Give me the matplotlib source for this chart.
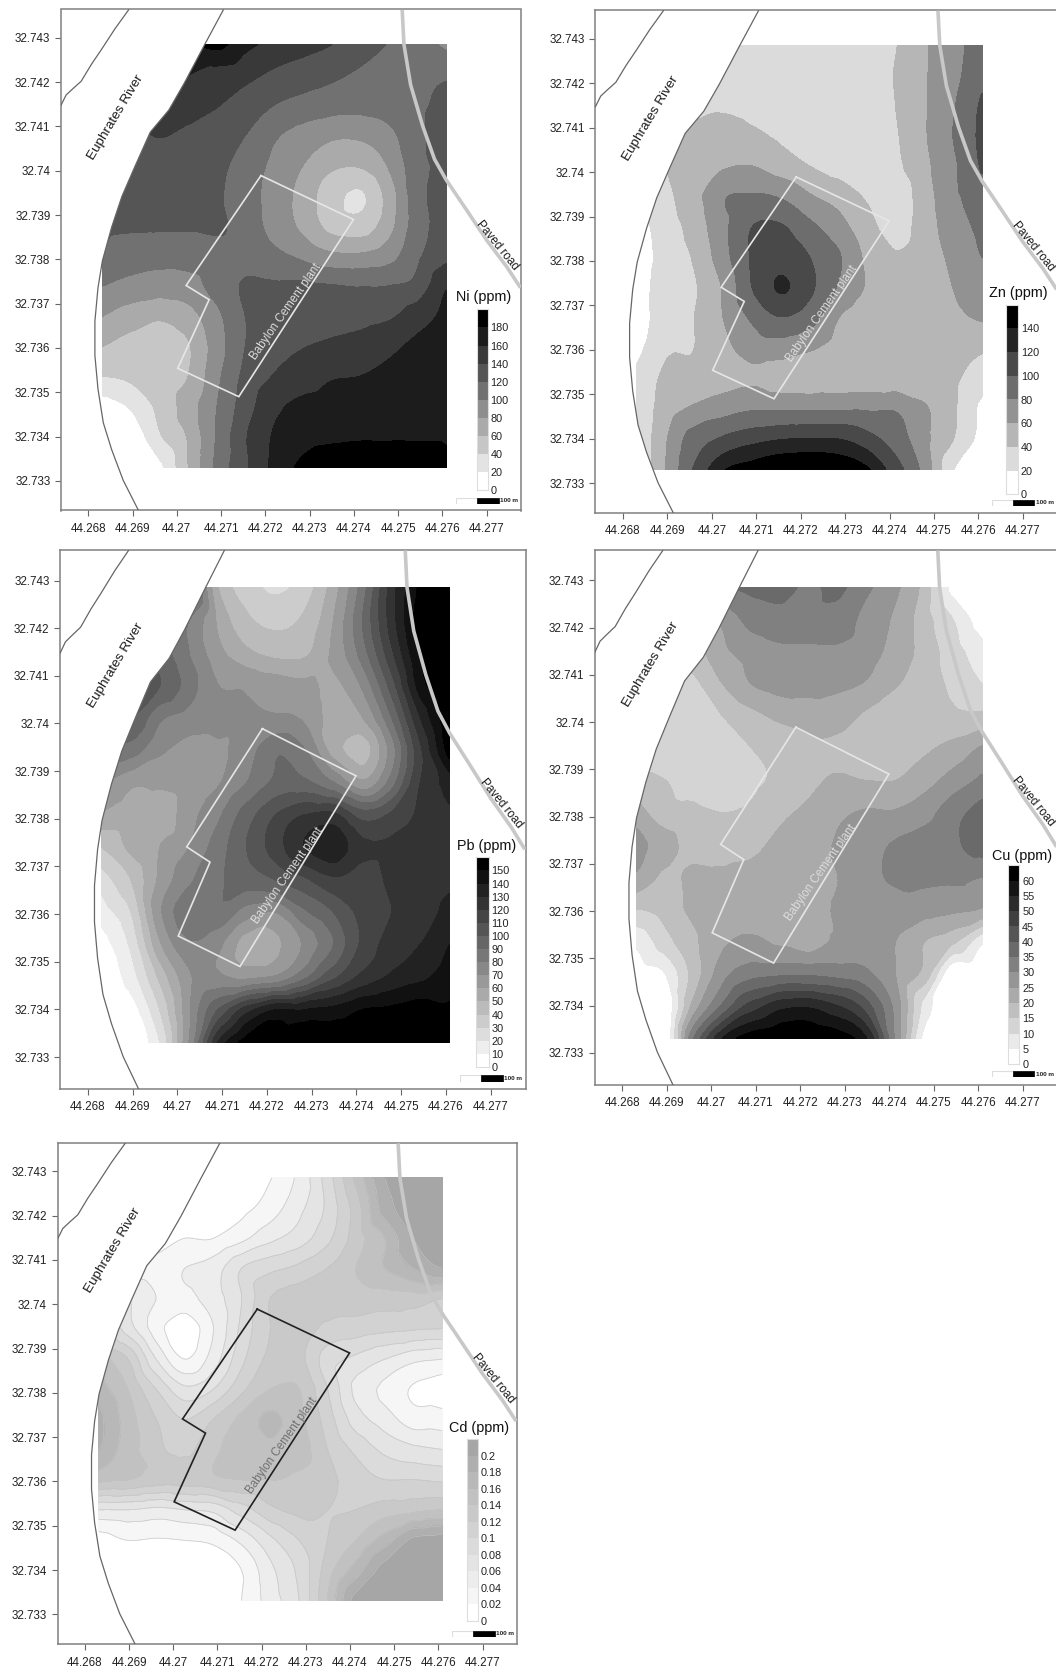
import numpy as np
import matplotlib
matplotlib.use('Agg')
import matplotlib.pyplot as plt
import matplotlib.tri as mtri
from matplotlib.patches import Polygon, Rectangle

plt.rcParams['font.family'] = ['Liberation Sans', 'DejaVu Sans']

FIG_W, FIG_H = 1056, 1669

x_tick_values = [44.268, 44.269, 44.27, 44.271, 44.272, 44.273, 44.274, 44.275, 44.276, 44.277]
x_tick_labels = ['44.268', '44.269', '44.27', '44.271', '44.272', '44.273', '44.274', '44.275', '44.276', '44.277']
y_tick_values = [32.733, 32.734, 32.735, 32.736, 32.737, 32.738, 32.739, 32.74, 32.741, 32.742, 32.743]
y_tick_labels = ['32.733', '32.734', '32.735', '32.736', '32.737', '32.738', '32.739', '32.74', '32.741', '32.742', '32.743']

# sampling nodes of the maps, values at these
grid_x = [44.26832, 44.26897, 44.26961, 44.27026, 44.27091, 44.27155, 44.2722,
          44.27285, 44.27349, 44.27414, 44.27479, 44.27543, 44.27608]
grid_y = [32.74285, 32.74217, 32.74149, 32.74081, 32.74013, 32.73945, 32.73876, 32.73808,
          32.7374, 32.73672, 32.73604, 32.73536, 32.73467, 32.73399, 32.73331]

ni_grid = [
    [170, 170, 170, 178, 185, 165, 155, 147, 140, 128, 119, 110, 95],
    [165, 165, 165, 160, 152, 146, 136, 130, 124, 117, 112, 112, 118],
    [150, 150, 150, 150, 141, 130, 120, 113, 108, 106, 108, 116, 125],
    [135, 135, 141, 135, 130, 120, 103, 92, 84, 84, 95, 114, 132],
    [125, 125, 127, 127, 124, 112, 95, 80, 64, 62, 82, 112, 128],
    [125, 125, 125, 125, 122, 108, 92, 72, 48, 37, 68, 112, 130],
    [123, 122, 122, 122, 123, 110, 93, 75, 53, 48, 72, 110, 130],
    [118, 110, 107, 108, 110, 113, 105, 95, 84, 83, 92, 116, 135],
    [100, 93, 90, 92, 108, 122, 122, 123, 121, 119, 120, 127, 158],
    [80, 70, 63, 72, 95, 120, 127, 130, 132, 133, 137, 150, 165],
    [60, 52, 48, 58, 90, 120, 132, 139, 143, 147, 155, 165, 175],
    [40, 44, 50, 60, 95, 125, 141, 150, 158, 160, 165, 172, 178],
    [10, 22, 45, 70, 100, 130, 155, 165, 168, 170, 172, 175, 177],
    [0, 5, 37, 62, 102, 138, 162, 172, 176, 178, 178, 178, 178],
    [0, 0, 15, 60, 105, 136, 165, 185, 195, 195, 195, 195, 185],
]
zn_grid = [
    [28, 28, 28, 28, 28, 28, 28, 28, 28, 39, 58, 72, 92],
    [30, 30, 30, 30, 30, 30, 30, 30, 30, 41, 58, 74, 95],
    [35, 35, 35, 38, 36, 32, 28, 28, 28, 40, 58, 78, 103],
    [38, 40, 45, 46, 43, 37, 30, 28, 28, 38, 58, 80, 105],
    [25, 40, 50, 58, 60, 50, 40, 32, 28, 36, 55, 76, 102],
    [25, 35, 53, 78, 82, 78, 62, 52, 38, 28, 51, 75, 90],
    [12, 30, 48, 75, 100, 102, 85, 68, 47, 32, 50, 70, 85],
    [8, 28, 42, 72, 102, 112, 100, 82, 56, 42, 50, 64, 80],
    [12, 28, 38, 62, 100, 122, 104, 78, 58, 48, 50, 60, 70],
    [10, 30, 40, 60, 83, 99, 88, 60, 47, 45, 48, 56, 62],
    [14, 37, 40, 55, 68, 70, 62, 52, 45, 44, 45, 47, 42],
    [25, 44, 46, 52, 57, 50, 47, 48, 47, 47, 47, 43, 30],
    [25, 50, 63, 72, 78, 78, 78, 78, 78, 78, 62, 43, 15],
    [22, 58, 90, 103, 113, 119, 121, 120, 108, 90, 65, 40, 12],
    [20, 60, 102, 138, 150, 160, 162, 158, 143, 108, 72, 21, 0],
]
pb_grid = [
    [100, 100, 100, 100, 50, 35, 28, 35, 55, 85, 125, 152, 158],
    [100, 100, 95, 80, 58, 42, 37, 42, 60, 90, 125, 155, 160],
    [100, 100, 95, 80, 63, 52, 47, 48, 62, 85, 118, 150, 160],
    [105, 105, 100, 85, 70, 68, 65, 62, 58, 72, 105, 145, 160],
    [100, 100, 82, 76, 74, 71, 71, 68, 56, 60, 90, 130, 160],
    [85, 85, 72, 66, 68, 75, 88, 80, 55, 45, 75, 118, 155],
    [70, 62, 62, 64, 69, 80, 92, 92, 80, 62, 85, 120, 135],
    [58, 55, 53, 66, 78, 95, 110, 120, 122, 105, 112, 122, 128],
    [40, 52, 60, 70, 85, 100, 115, 130, 137, 122, 122, 124, 126],
    [25, 40, 62, 78, 88, 95, 100, 108, 118, 115, 122, 125, 128],
    [15, 30, 68, 88, 88, 75, 70, 88, 100, 113, 120, 125, 133],
    [5, 22, 58, 78, 72, 55, 58, 72, 90, 112, 125, 130, 140],
    [0, 15, 42, 68, 72, 68, 72, 88, 108, 123, 132, 138, 145],
    [0, 5, 30, 68, 100, 125, 140, 140, 143, 150, 152, 155, 152],
    [0, 0, 20, 70, 130, 155, 158, 160, 160, 160, 160, 160, 160],
]
cu_grid = [
    [22, 25, 28, 34, 36, 37, 34, 36, 31, 26, 18, 3, 0],
    [20, 22, 25, 26, 32, 33, 33, 33, 28, 24, 17, 10, 2],
    [18, 18, 18, 24, 27, 29, 29, 29, 27, 23, 18, 12, 7],
    [13, 14, 14, 20, 25, 27, 27, 26, 24.5, 20.5, 17, 14, 10],
    [13, 12, 12, 15, 18.5, 21, 22, 22, 19, 16, 16, 16, 16],
    [14, 12, 12, 13, 15, 17, 19, 19, 17, 17, 19, 21.5, 25.5],
    [17, 15, 13, 12, 14, 16, 19, 20.5, 20, 20, 23, 27, 31],
    [22, 17, 16, 15, 16, 19, 21, 24, 25.5, 25.5, 28, 33, 37],
    [27, 22, 18, 17, 19, 21, 23, 25.5, 28, 30.5, 32, 34, 37],
    [24, 19, 21, 21, 21, 22, 23, 25, 28, 31, 31, 31, 30],
    [15, 17, 21, 22, 22, 23, 23, 25.5, 26, 27, 27, 26, 24.5],
    [6, 13, 19, 24, 26, 24, 22, 26, 27, 25, 20, 16, 6],
    [2, 5, 17, 28, 33, 34, 34, 33, 31, 25, 18, 0, 0],
    [0, 0, 22, 36, 47, 53, 54, 50, 42, 28, 8, 0, 0],
    [0, 0, 35, 55, 63, 65, 65, 63, 55, 29, 3, 0, 0],
]
# hundredths of a ppm
cd_grid = [
    [0, 0, 0, 0, 0, 0, 1.9, 4.5, 9, 14.5, 20, 21, 21.5],
    [0, 0, 0, 0, 0, 1.4, 3, 5.5, 8.5, 13, 19, 21, 21.5],
    [1, 1, 1, 2, 2, 3.5, 5.5, 7, 9.5, 13, 16, 20, 21.5],
    [3, 3, 3, 4, 5, 8, 9.5, 10.5, 12, 14, 16, 18, 20],
    [6, 6, 4, 3.5, 5, 8, 12, 13, 13, 13, 13, 13, 12],
    [12, 7, 3, 0.5, 4, 8.5, 12, 13, 11.5, 11, 10.5, 10.2, 10],
    [15, 12, 6, 2, 5, 9.5, 12.5, 12.5, 9, 7.5, 6, 4.5, 4],
    [17, 14, 10, 6.5, 8, 11.5, 14, 14, 10, 5.5, 3.5, 1.8, 1],
    [18.5, 15, 12, 10, 12, 14.5, 16.5, 14.5, 11, 7, 5, 3, 3],
    [18, 15, 12.5, 11.5, 13.5, 15.2, 15.5, 15, 12, 9.5, 7.5, 6.5, 6],
    [14.5, 14, 13, 13, 13.5, 14, 14, 13.5, 12.5, 11, 10, 10, 9.7],
    [6, 6, 5.5, 6, 6.5, 9, 11.5, 12.5, 12, 12, 13, 13.5, 14],
    [1, 2, 1.8, 2, 2.5, 4.5, 7.5, 10, 12, 14, 17, 20.5, 21],
    [0, 0, 0, 0, 0, 2, 5.5, 8.5, 13, 17, 21, 21.5, 21.5],
    [0, 0, 0, 0, 0, 2, 5, 8, 14, 21, 22, 22, 22],
]

ni_levels = [0, 20, 40, 60, 80, 100, 120, 140, 160, 180, 200]
zn_levels = [0, 20, 40, 60, 80, 100, 120, 140, 160]
pb_levels = [0, 10, 20, 30, 40, 50, 60, 70, 80, 90, 100, 110, 120, 130, 140, 150, 160]
cu_levels = [0, 5, 10, 15, 20, 25, 30, 35, 40, 45, 50, 55, 60, 65]
cd_levels = [0, 2, 4, 6, 8, 10, 12, 14, 16, 18, 20, 22]
ni_ticks = ['0', '20', '40', '60', '80', '100', '120', '140', '160', '180']
zn_ticks = ['0', '20', '40', '60', '80', '100', '120', '140']
pb_ticks = ['0', '10', '20', '30', '40', '50', '60', '70', '80', '90', '100', '110', '120', '130', '140', '150']
cu_ticks = ['0', '5', '10', '15', '20', '25', '30', '35', '40', '45', '50', '55', '60']
cd_ticks = ['0', '0.02', '0.04', '0.06', '0.08', '0.1', '0.12', '0.14', '0.16', '0.18', '0.2']

# base map: river banks, road and plant outline
river_right_x = [44.27105, 44.27063, 44.27017, 44.26982, 44.2694, 44.26906, 44.26876, 44.26853, 44.26832,
                 44.26822, 44.26815, 44.26815, 44.26822, 44.26834, 44.26853, 44.26879, 44.26914]
river_right_y = [32.74363, 32.74285, 32.74198, 32.74137, 32.74087, 32.74011, 32.73942, 32.73873, 32.73797,
                 32.73736, 32.7366, 32.73583, 32.73507, 32.73431, 32.7337, 32.73301, 32.73232]
river_left_x = [44.26891, 44.2686, 44.2683, 44.26807, 44.26784, 44.26765, 44.2675, 44.26738]
river_left_y = [32.74363, 32.7432, 32.74274, 32.7424, 32.74202, 32.74185, 32.74171, 32.74147]
road_x = [44.27509, 44.27513, 44.27528, 44.27555, 44.27582, 44.27608, 44.27654, 44.277, 44.27746, 44.27776]
road_y = [32.74363, 32.74285, 32.74194, 32.74102, 32.74026, 32.7398, 32.73912, 32.73843, 32.73782, 32.73736]
plant_x = [44.2719, 44.27399, 44.2714, 44.27002, 44.27073, 44.27021, 44.2719]
plant_y = [32.73989, 32.7389, 32.7349, 32.73554, 32.73709, 32.73741, 32.73989]

xlim = (44.26738, 44.27778)
ylim = (32.73233, 32.74364)

fig = plt.figure(figsize=(FIG_W / 100, FIG_H / 100), dpi=100)


def add_px_axes(left, top, right, bottom):
    return fig.add_axes([left / FIG_W, 1 - bottom / FIG_H, (right - left) / FIG_W, (bottom - top) / FIG_H])


def band_colors(n, darkest=0.0):
    return [str(round(1 - (1 - darkest) * i / (n - 1), 3)) for i in range(n)]


def paint(frame, grid, levels, ticks, title, bar, title_pos, scale, darkest=0.0,
          plant_color='#e6e6e6', label_color='#dcdcdc', lines=False):
    ax = add_px_axes(*frame)
    ax.set_xlim(xlim)
    ax.set_ylim(ylim)

    colors = band_colors(len(levels) - 1, darkest)
    gx, gy = np.meshgrid(grid_x, grid_y)
    tri = mtri.Triangulation(gx.ravel(), gy.ravel())
    z = np.array(grid, dtype=float).ravel()
    interp = mtri.CubicTriInterpolator(tri, z, kind='geom')
    refiner = mtri.UniformTriRefiner(tri)
    tri_fine, z_fine = refiner.refine_field(z, interp, subdiv=4)

    cs = ax.tricontourf(tri_fine, z_fine, levels=levels, extend='both',
                        colors=[colors[0]] + colors + [colors[-1]], zorder=1)
    cs.set_edgecolor('face')
    cs.set_linewidth(0.4)
    if lines:
        ax.tricontour(tri_fine, z_fine, levels=levels[1:-1], colors='#c4c4c4', linewidths=0.45, zorder=1.5)

    # everything west of the bank is blanked out
    ax.add_patch(Polygon(list(zip(river_right_x, river_right_y)) + [(xlim[0], ylim[0]), (xlim[0], ylim[1])],
                         closed=True, fc='white', ec='none', zorder=2))
    ax.plot(river_right_x, river_right_y, color='#666666', lw=0.9, zorder=3)
    ax.plot(river_left_x, river_left_y, color='#666666', lw=0.9, zorder=3)
    ax.plot(road_x, road_y, color='#c8c8c8', lw=2.6, zorder=3, solid_capstyle='butt')
    ax.plot(plant_x, plant_y, color=plant_color, lw=1.2, zorder=4, solid_joinstyle='miter')

    ax.text(44.26863, 32.74121, 'Euphrates River', rotation=59, fontsize=9.7, color='#1a1a1a',
            ha='center', va='center', rotation_mode='anchor', zorder=5)
    ax.text(44.27724, 32.73832, 'Paved road', rotation=-51, fontsize=8.5, color='#1a1a1a',
            ha='center', va='center', rotation_mode='anchor', zorder=5)
    ax.text(44.27247, 32.73681, 'Babylon Cement plant', rotation=55, fontsize=8.4, color=label_color,
            ha='center', va='center', rotation_mode='anchor', zorder=5)

    ax.set_xticks(x_tick_values)
    ax.set_xticklabels(x_tick_labels)
    ax.set_yticks(y_tick_values)
    ax.set_yticklabels(y_tick_labels)
    ax.tick_params(length=4.5, width=0.8, color='#666666', labelsize=8.4, labelcolor='#222222', pad=3)
    ax.tick_params(axis='x', pad=4.5)
    for spine in ax.spines.values():
        spine.set_color('#808080')
        spine.set_linewidth(1.1)
    ax.set_zorder(1)

    # legend
    fig.text(title_pos[0] / FIG_W, 1 - title_pos[1] / FIG_H, title, fontsize=10.4, color='#111111',
             ha='center', va='center', zorder=10)
    cax = add_px_axes(*bar)
    cax.bar(0.5, np.diff(levels), bottom=levels[:-1], width=1, color=colors)
    cax.set_xlim(0, 1)
    cax.set_ylim(levels[0], levels[-1])
    cax.set_xticks([])
    cax.yaxis.tick_right()
    cax.set_yticks(levels[:-1])
    cax.set_yticklabels(ticks)
    cax.tick_params(length=0, labelsize=7.8, labelcolor='#222222', pad=2)
    for spine in cax.spines.values():
        spine.set_color('#dddddd')
        spine.set_linewidth(0.8)
    cax.set_zorder(2)

    # scale bar
    sx0, sx1, sx2, sy0, sy1 = scale
    sax = add_px_axes(sx0, sy0, sx2 + 20, sy1)
    sax.set_xlim(sx0, sx2 + 20)
    sax.set_ylim(0, 1)
    sax.axis('off')
    sax.add_patch(Rectangle((sx0, 0), sx1 - sx0, 1, fc='white', ec='#dddddd', lw=0.8))
    sax.add_patch(Rectangle((sx1, 0), sx2 - sx1, 1, fc='black', ec='black', lw=0.5))
    sax.text(sx2 + 1.5, 0.5, '100 m', fontsize=4.6, fontweight='bold', ha='left', va='center', color='#222222')
    sax.set_zorder(3)
    return ax


paint((60.8, 9.5, 521.3, 510.5), ni_grid, ni_levels, ni_ticks, 'Ni (ppm)',
      (476.7, 309.3, 487.8, 490.5), (483.5, 297.5), (456.4, 477.4, 498.6, 497.6, 503.7))
paint((595.4, 10.3, 1057.5, 513), zn_grid, zn_levels, zn_ticks, 'Zn (ppm)',
      (1006.4, 304.8, 1018, 494.2), (1018, 293.4), (992.3, 1013, 1034.2, 500, 506))
paint((60, 550, 525.7, 1089), pb_grid, pb_levels, pb_ticks, 'Pb (ppm)',
      (476.3, 857.3, 488.5, 1067), (486.8, 846.4), (460.4, 481.4, 502.7, 1075.4, 1082.3))
paint((594.7, 550, 1057.5, 1084.5), cu_grid, cu_levels, cu_ticks, 'Cu (ppm)',
      (1007.7, 865.3, 1019.4, 1064.2), (1022, 855.5), (992.3, 1013, 1034.2, 1070.7, 1077.3))
paint((57.5, 1143, 517, 1644), cd_grid, cd_levels, cd_ticks, 'Cd (ppm)',
      (466.5, 1439.4, 477.7, 1620.5), (479.4, 1428.4), (452.3, 473.3, 494.6, 1630.9, 1637),
      darkest=0.65, plant_color='#222222', label_color='#707070', lines=True)

plt.savefig('out.png', dpi=100)
plt.close()
